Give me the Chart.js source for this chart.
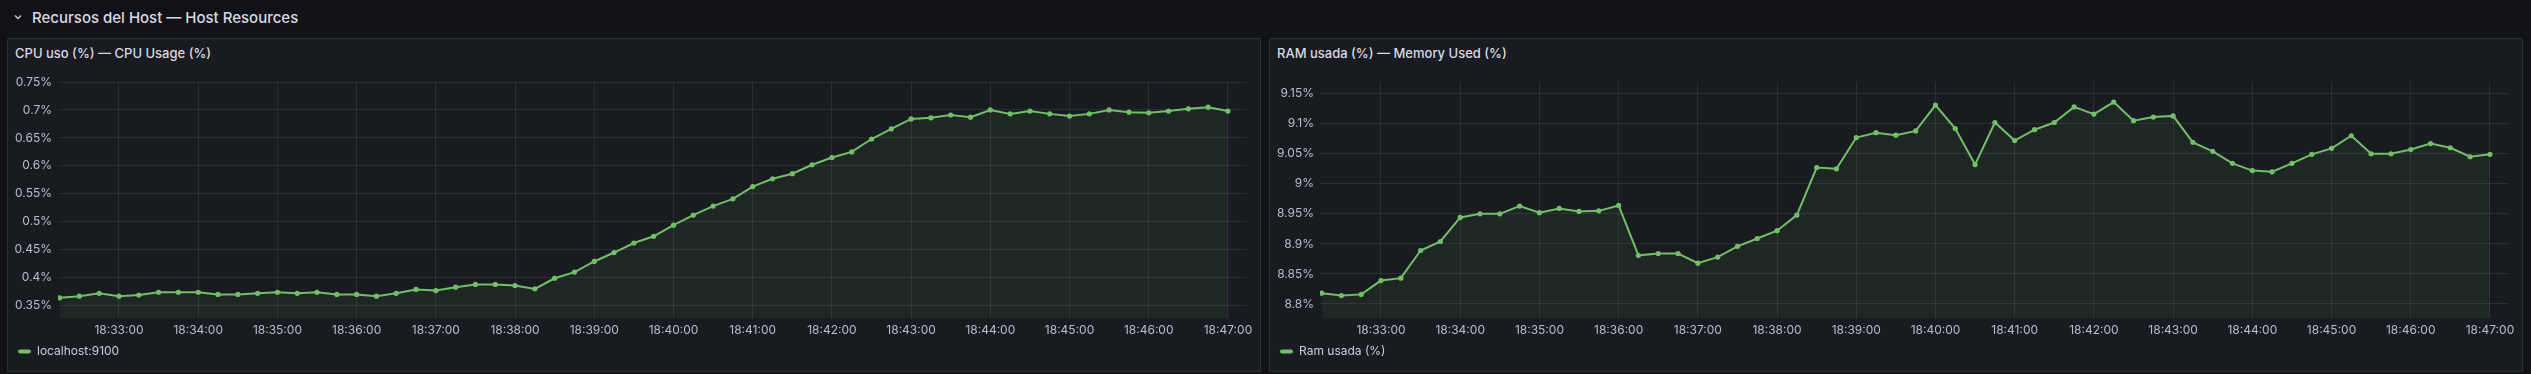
<!DOCTYPE html>
<html lang="es">
<head>
<meta charset="UTF-8">
<title>Recursos del Host</title>
<script src="https://cdn.jsdelivr.net/npm/chart.js@4"></script>
<style>
  body {
    margin: 0;
    width: 2531px;
    height: 374px;
    background: #111217;
    color: #ccccdc;
    font-family: Inter, 'Noto Sans', sans-serif;
    overflow: hidden;
    position: relative;
  }
  .row-title {
    position: absolute;
    left: 14px;
    top: 7px;
    height: 20px;
    display: flex;
    align-items: center;
    font-size: 15px;
    font-weight: 500;
    color: #d8d9e3;
  }
  .row-title svg { margin-right: 10px; }
  .panel {
    position: absolute;
    top: 38px;
    width: 1254px;
    height: 334px;
    box-sizing: border-box;
    background: #181b1f;
    border: 1px solid rgba(204, 204, 220, 0.12);
    border-radius: 2px;
  }
  .panel h3 {
    position: absolute;
    left: 7px;
    top: 6px;
    margin: 0;
    font-size: 13px;
    line-height: 16px;
    font-weight: 500;
    color: #d8d9e3;
  }
  .chart-box {
    position: absolute;
    left: 0;
    top: 0;
    width: 1252px;
    height: 332px;
  }
</style>
</head>
<body>
  <div class="row-title">
    <svg width="8" height="6" viewBox="0 0 8 6"><polyline points="1,1.5 4,4.5 7,1.5" fill="none" stroke="#ccccdc" stroke-width="1.3"/></svg>
    Recursos del Host — Host Resources
  </div>

  <div class="panel" style="left:7px">
    <h3>CPU uso (%) — CPU Usage (%)</h3>
    <div class="chart-box"><canvas id="cpuChart"></canvas></div>
  </div>

  <div class="panel" style="left:1269px">
    <h3>RAM usada (%) — Memory Used (%)</h3>
    <div class="chart-box"><canvas id="ramChart"></canvas></div>
  </div>

<script>
// sample times (15 s scrape interval)
const times = [
  '18:32:15', '18:32:30', '18:32:45', '18:33:00', '18:33:15', '18:33:30', '18:33:45', '18:34:00',
  '18:34:15', '18:34:30', '18:34:45', '18:35:00', '18:35:15', '18:35:30', '18:35:45', '18:36:00',
  '18:36:15', '18:36:30', '18:36:45', '18:37:00', '18:37:15', '18:37:30', '18:37:45', '18:38:00',
  '18:38:15', '18:38:30', '18:38:45', '18:39:00', '18:39:15', '18:39:30', '18:39:45', '18:40:00',
  '18:40:15', '18:40:30', '18:40:45', '18:41:00', '18:41:15', '18:41:30', '18:41:45', '18:42:00',
  '18:42:15', '18:42:30', '18:42:45', '18:43:00', '18:43:15', '18:43:30', '18:43:45', '18:44:00',
  '18:44:15', '18:44:30', '18:44:45', '18:45:00', '18:45:15', '18:45:30', '18:45:45', '18:46:00',
  '18:46:15', '18:46:30', '18:46:45', '18:47:00'
];

const cpuValues = [
  0.364, 0.367, 0.372, 0.367, 0.369, 0.374, 0.374, 0.374,
  0.370, 0.370, 0.372, 0.374, 0.372, 0.374, 0.370, 0.370,
  0.367, 0.372, 0.379, 0.377, 0.383, 0.388, 0.388, 0.386,
  0.380, 0.399, 0.410, 0.429, 0.445, 0.462, 0.474, 0.494,
  0.512, 0.528, 0.541, 0.563, 0.577, 0.586, 0.602, 0.615,
  0.625, 0.648, 0.666, 0.684, 0.686, 0.691, 0.687, 0.700,
  0.693, 0.698, 0.693, 0.689, 0.693, 0.700, 0.696, 0.695,
  0.698, 0.702, 0.705, 0.698
];

const ramValues = [
  8.818, 8.814, 8.816, 8.839, 8.843, 8.889, 8.904, 8.944,
  8.950, 8.950, 8.963, 8.952, 8.959, 8.954, 8.955, 8.964,
  8.881, 8.884, 8.884, 8.868, 8.878, 8.896, 8.909, 8.922,
  8.948, 9.027, 9.025, 9.077, 9.085, 9.081, 9.088, 9.131,
  9.092, 9.032, 9.102, 9.072, 9.090, 9.102, 9.128, 9.116,
  9.136, 9.105, 9.111, 9.113, 9.069, 9.054, 9.034, 9.022,
  9.020, 9.034, 9.049, 9.059, 9.080, 9.050, 9.050, 9.057,
  9.067, 9.060, 9.045, 9.049
];

const xTickLabels = [
  '18:33:00', '18:34:00', '18:35:00', '18:36:00', '18:37:00', '18:38:00', '18:39:00', '18:40:00',
  '18:41:00', '18:42:00', '18:43:00', '18:44:00', '18:45:00', '18:46:00', '18:47:00'
];
const cpuTicks = [0.35, 0.4, 0.45, 0.5, 0.55, 0.6, 0.65, 0.7, 0.75];
const ramTicks = [8.8, 8.85, 8.9, 8.95, 9, 9.05, 9.1, 9.15];

const toSec = t => {
  const p = t.split(':').map(Number);
  return p[0] * 3600 + p[1] * 60 + p[2];
};
const pad = n => String(n).padStart(2, '0');
const fmtSec = s => pad(Math.floor(s / 3600)) + ':' + pad(Math.floor(s / 60) % 60) + ':' + pad(s % 60);

const green = '#73bf69';
const textCol = 'rgba(204, 204, 220, 0.9)';
const gridCol = 'rgba(204, 204, 220, 0.1)';
Chart.defaults.font.family = 'Inter, "Noto Sans", sans-serif';

function makeChart(id, values, yTicks, yMin, yMax, legendText) {
  const ctx = document.getElementById(id).getContext('2d');
  return new Chart(ctx, {
    type: 'line',
    data: {
      datasets: [{
        label: legendText,
        data: times.map((t, i) => ({ x: toSec(t), y: values[i] })),
        borderColor: green,
        borderWidth: 2,
        backgroundColor: 'rgba(115, 191, 105, 0.08)',
        fill: 'start',
        tension: 0,
        pointRadius: 2.6,
        pointBackgroundColor: green,
        pointBorderWidth: 0
      }]
    },
    options: {
      responsive: true,
      maintainAspectRatio: false,
      animation: false,
      layout: { padding: { top: 43, left: 0, right: 13.7, bottom: 3.6 } },
      plugins: {
        tooltip: { enabled: false },
        legend: {
          position: 'bottom',
          align: 'start',
          labels: {
            color: '#ccccdc',
            font: { size: 12 },
            padding: 10,
            boxWidth: 13,
            boxHeight: 4,
            useBorderRadius: true,
            borderRadius: 2,
            generateLabels: () => [{
              text: legendText, fillStyle: green, strokeStyle: green,
              fontColor: '#ccccdc', hidden: false,
              lineWidth: 0, borderRadius: 2, datasetIndex: 0
            }]
          }
        }
      },
      scales: {
        x: {
          type: 'linear',
          min: toSec('18:32:14') - 0.2,
          max: toSec('18:47:14') - 0.1,
          afterBuildTicks: s => { s.ticks = xTickLabels.map(l => ({ value: toSec(l) })); },
          afterFit: s => { s.height = 17.4; },
          grid: { color: gridCol, drawTicks: false },
          border: { display: false },
          ticks: {
            color: textCol,
            font: { size: 12 },
            padding: 5,
            maxRotation: 0,
            autoSkip: false,
            callback: v => fmtSec(v)
          }
        },
        y: {
          min: yMin,
          max: yMax,
          afterBuildTicks: s => { s.ticks = yTicks.map(v => ({ value: v })); },
          afterFit: s => { s.width = 50; },
          grid: { color: gridCol, drawTicks: false },
          border: { display: false },
          ticks: {
            color: textCol,
            font: { size: 12 },
            padding: 6,
            callback: v => Number(v.toFixed(2)) + '%'
          }
        }
      }
    }
  });
}

makeChart('cpuChart', cpuValues, cpuTicks, 0.3279, 0.75, 'localhost:9100');
makeChart('ramChart', ramValues, ramTicks, 8.7767, 9.1694, 'Ram usada (%)');
</script>
</body>
</html>
